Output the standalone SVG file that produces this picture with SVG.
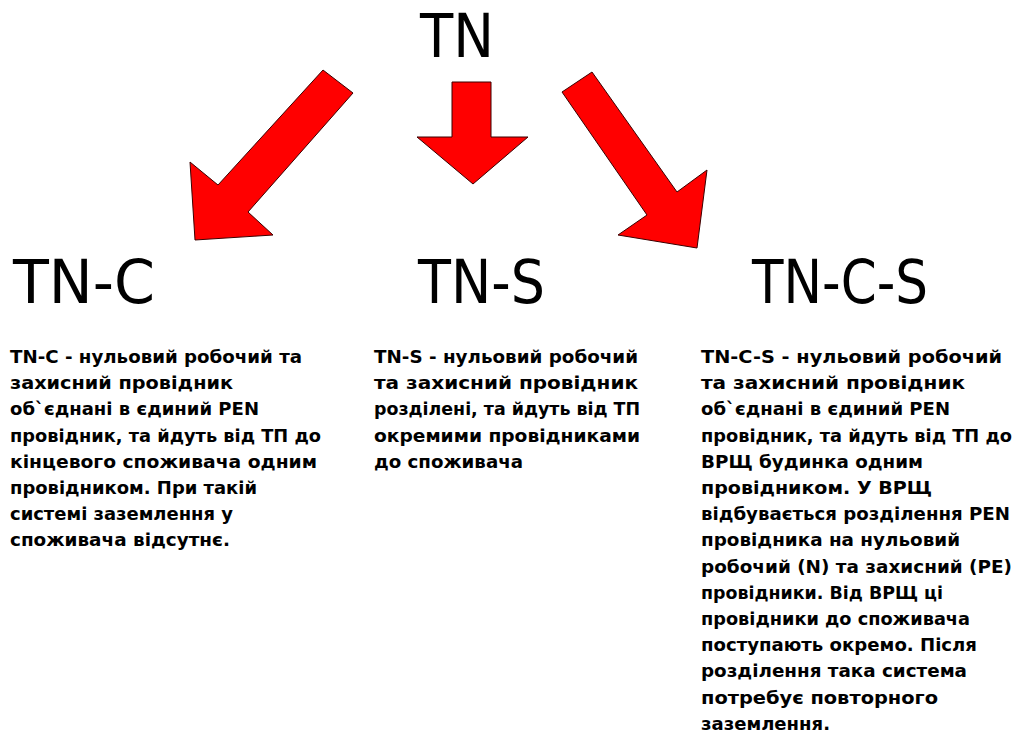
<svg xmlns="http://www.w3.org/2000/svg" width="1016" height="735" viewBox="0 0 1016 735">
  <style>
    .head { font-family: "DejaVu Sans", "Liberation Sans", sans-serif; font-size: 60px; fill: #000; }
    .body { font-family: "DejaVu Sans", "Liberation Sans", sans-serif; font-size: 17.5px; font-weight: bold; fill: #000; }
    .arrow { fill: #ff0000; stroke: #3a0000; stroke-width: 1; stroke-linejoin: miter; }
  </style>
  <rect x="0" y="0" width="1016" height="735" fill="#ffffff"/>

  <!-- root node -->
  <g id="node-tn">
    <text class="head" x="420" y="57" textLength="74" lengthAdjust="spacingAndGlyphs">TN</text>
  </g>

  <!-- block arrows from the root to the three system types -->
  <g id="connectors">
    <polygon class="arrow" points="323,70 353,93 248,212 273,235 195,240 190,162 218,185"/>
    <polygon class="arrow" points="452,82 491,82 491,137 528,137 473,184 417,137 452,137"/>
    <polygon class="arrow" points="592,72 677,192 707,170 697,248 618,235 647,215 562,92"/>
  </g>

  <g id="node-tn-c">
    <text class="head" x="13" y="303" textLength="142" lengthAdjust="spacingAndGlyphs">TN-C</text>
    <text class="body" lengthAdjust="spacingAndGlyphs">
      <tspan x="10" y="363" textLength="292" lengthAdjust="spacingAndGlyphs">TN-C - нульовий робочий та</tspan>
      <tspan x="10" y="389.2" textLength="223" lengthAdjust="spacingAndGlyphs">захисний провідник</tspan>
      <tspan x="10" y="415.4" textLength="249" lengthAdjust="spacingAndGlyphs">об`єднані в єдиний PEN</tspan>
      <tspan x="10" y="441.6" textLength="311" lengthAdjust="spacingAndGlyphs">провідник, та йдуть від ТП до</tspan>
      <tspan x="10" y="467.8" textLength="307" lengthAdjust="spacingAndGlyphs">кінцевого споживача одним</tspan>
      <tspan x="10" y="494" textLength="247" lengthAdjust="spacingAndGlyphs">провідником. При такій</tspan>
      <tspan x="10" y="520.2" textLength="223" lengthAdjust="spacingAndGlyphs">системі заземлення у</tspan>
      <tspan x="10" y="546.4" textLength="220" lengthAdjust="spacingAndGlyphs">споживача  відсутнє.</tspan>
    </text>
  </g>

  <g id="node-tn-s">
    <text class="head" x="418" y="303" textLength="127" lengthAdjust="spacingAndGlyphs">TN-S</text>
    <text class="body">
      <tspan x="374" y="363" textLength="264" lengthAdjust="spacingAndGlyphs">TN-S - нульовий робочий</tspan>
      <tspan x="374" y="389.2" textLength="264" lengthAdjust="spacingAndGlyphs">та захисний провідник</tspan>
      <tspan x="374" y="415.4" textLength="266" lengthAdjust="spacingAndGlyphs">розділені, та йдуть від ТП</tspan>
      <tspan x="374" y="441.6" textLength="266" lengthAdjust="spacingAndGlyphs">окремими провідниками</tspan>
      <tspan x="374" y="467.8" textLength="149" lengthAdjust="spacingAndGlyphs">до споживача</tspan>
    </text>
  </g>

  <g id="node-tn-c-s">
    <text class="head" x="752" y="303" textLength="176" lengthAdjust="spacingAndGlyphs">TN-C-S</text>
    <text class="body">
      <tspan x="701" y="363" textLength="301" lengthAdjust="spacingAndGlyphs">TN-C-S - нульовий робочий</tspan>
      <tspan x="701" y="389.2" textLength="264" lengthAdjust="spacingAndGlyphs">та захисний провідник</tspan>
      <tspan x="701" y="415.4" textLength="249" lengthAdjust="spacingAndGlyphs">об`єднані в єдиний PEN</tspan>
      <tspan x="701" y="441.6" textLength="311" lengthAdjust="spacingAndGlyphs">провідник, та йдуть від ТП до</tspan>
      <tspan x="701" y="467.8" textLength="222" lengthAdjust="spacingAndGlyphs">ВРЩ будинка одним</tspan>
      <tspan x="701" y="494" textLength="231" lengthAdjust="spacingAndGlyphs">провідником. У ВРЩ</tspan>
      <tspan x="701" y="520.2" textLength="309" lengthAdjust="spacingAndGlyphs">відбувається розділення PEN</tspan>
      <tspan x="701" y="546.4" textLength="259" lengthAdjust="spacingAndGlyphs">провідника на нульовий</tspan>
      <tspan x="701" y="572.6" textLength="311" lengthAdjust="spacingAndGlyphs">робочий (N) та захисний (PE)</tspan>
      <tspan x="701" y="598.8" textLength="242" lengthAdjust="spacingAndGlyphs">провідники. Від ВРЩ ці</tspan>
      <tspan x="701" y="625" textLength="269" lengthAdjust="spacingAndGlyphs">провідники до споживача</tspan>
      <tspan x="701" y="651.2" textLength="276" lengthAdjust="spacingAndGlyphs">поступають окремо. Після</tspan>
      <tspan x="701" y="677.4" textLength="266" lengthAdjust="spacingAndGlyphs">розділення така система</tspan>
      <tspan x="701" y="703.6" textLength="237" lengthAdjust="spacingAndGlyphs">потребує повторного</tspan>
      <tspan x="701" y="729.8" textLength="129" lengthAdjust="spacingAndGlyphs">заземлення.</tspan>
    </text>
  </g>
</svg>
